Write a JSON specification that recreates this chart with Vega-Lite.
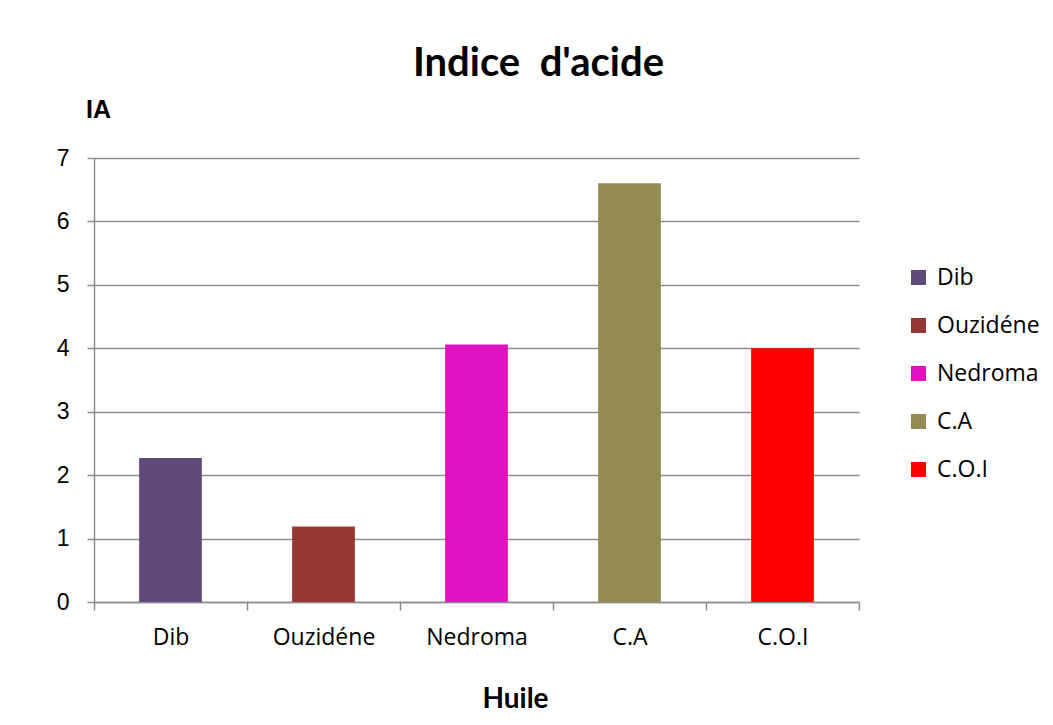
{
  "$schema": "https://vega.github.io/schema/vega-lite/v6.json",
  "width": 765,
  "height": 444,
  "autosize": "none",
  "padding": {"left": 94, "top": 158, "right": 194, "bottom": 123},
  "background": "white",
  "title": {
    "text": "Indice \u00a0d'acide",
    "font": "Lato",
    "fontSize": 40,
    "fontWeight": "bold",
    "color": "black",
    "anchor": "middle",
    "dx": 62,
    "dy": -9
  },
  "data": {
    "values": [
      {"huile": "Dib", "ia": 2.27},
      {"huile": "Ouzidéne", "ia": 1.19},
      {"huile": "Nedroma", "ia": 4.06},
      {"huile": "C.A", "ia": 6.6},
      {"huile": "C.O.I", "ia": 4.0}
    ]
  },
  "mark": {"type": "bar", "width": {"band": 0.41}},
  "encoding": {
    "x": {
      "field": "huile",
      "type": "nominal",
      "sort": null,
      "scale": {"paddingInner": 0, "paddingOuter": 0},
      "axis": {
        "title": "Huile",
        "titleFont": "Lato",
        "titleFontSize": 28,
        "titleFontWeight": "bold",
        "titleColor": "black",
        "titlePadding": 36,
        "titleX": 421,
        "titleAlign": "center",
        "labelAngle": 0,
        "labelFont": "Open Sans",
        "labelFontSize": 23,
        "labelColor": "black",
        "labelPadding": 16,
        "tickBand": "extent",
        "tickSize": 8,
        "tickColor": "#8e8e8e",
        "tickWidth": 1.5,
        "domainColor": "#8e8e8e",
        "domainWidth": 1.5,
        "grid": false
      }
    },
    "y": {
      "field": "ia",
      "type": "quantitative",
      "scale": {"domain": [0, 7], "nice": false},
      "axis": {
        "title": "IA",
        "titleAngle": 0,
        "titleFont": "Liberation Sans",
        "titleFontSize": 25,
        "titleFontWeight": "bold",
        "titleColor": "black",
        "titleAlign": "center",
        "titleBaseline": "alphabetic",
        "titleX": 4,
        "titleY": -41,
        "values": [0, 1, 2, 3, 4, 5, 6, 7],
        "labelFont": "Liberation Sans",
        "labelFontSize": 23,
        "labelColor": "black",
        "labelPadding": 18,
        "tickSize": 7,
        "tickColor": "#8e8e8e",
        "tickWidth": 1.5,
        "domainColor": "#8e8e8e",
        "domainWidth": 1.5,
        "grid": true,
        "gridColor": "#8e8e8e",
        "gridWidth": 1.5
      }
    },
    "color": {
      "field": "huile",
      "type": "nominal",
      "sort": null,
      "scale": {
        "domain": ["Dib", "Ouzidéne", "Nedroma", "C.A", "C.O.I"],
        "range": ["#604A7B", "#953735", "#DF12BF", "#948A54", "#FF0000"]
      },
      "legend": {
        "title": null,
        "orient": "none",
        "legendX": 813,
        "legendY": 108,
        "symbolType": "square",
        "symbolSize": 225,
        "symbolStrokeWidth": 0,
        "symbolOpacity": 1,
        "labelFont": "Open Sans",
        "labelFontSize": 23,
        "labelColor": "black",
        "labelOffset": 7,
        "rowPadding": 24
      }
    }
  },
  "config": {
    "view": {"stroke": null}
  }
}
